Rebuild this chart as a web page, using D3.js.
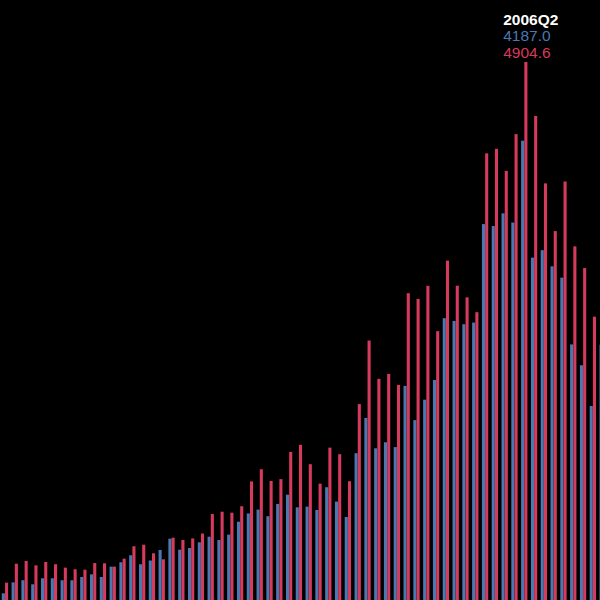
<!DOCTYPE html>
<html>
<head>
<meta charset="utf-8">
<script src="https://cdn.jsdelivr.net/npm/d3@7"></script>
<style>
  html, body { margin: 0; padding: 0; background: #000; }
  svg { display: block; }
</style>
</head>
<body>
<svg id="chart" width="600" height="600"></svg>
<script>
// Quarters 1993Q1 .. 2008Q2
const quarters = [];
for (let y = 1993; y <= 2008; y++) {
  for (let q = 1; q <= 4; q++) {
    if (y === 2008 && q > 2) break;
    quarters.push(y + "Q" + q);
  }
}

const seriesA = [61,161,180,143,198,198,180,180,210,234,
                 210,304,344,408,326,360,456,559,459,474,
                 526,577,547,596,714,789,824,764,876,960,
                 845,851,821,1028,897,757,1338,1660,1383,1438,
                 1394,1952,1640,1826,2006,2569,2544,2514,2529,3427,
                 3409,3525,3441,4187.0,3121,3189,3042,2939,2330,2140,
                 1769,2327];

const seriesB = [158,331,356,316,347,326,295,280,276,337,
                 335,304,377,490,504,426,371,568,547,561,
                 606,784,805,796,855,1081,1192,1085,1102,1350,
                 1415,1238,1061,1389,1329,1083,1786,2365,2016,2061,
                 1961,2797,2745,2864,2451,3094,2865,2759,2624,4072,
                 4113,3912,4247,4904.6,4412,3798,3363,3815,3224,3026,
                 2583,2900];

const seriesNames = ["A", "B"];
const colors = ["#4a79b2", "#d63a5c"];
const highlight = "2006Q2";

const svg = d3.select("#chart");
const W = 600, H = 600;

const x = d3.scaleBand()
  .domain(quarters)
  .range([0, 607.6])
  .paddingInner(0.33)
  .paddingOuter(0.17);

const xs = d3.scaleBand()
  .domain(seriesNames)
  .range([0, x.bandwidth()])
  .padding(0.04);

const y = d3.scaleLinear()
  .domain([0, d3.max(seriesB)])
  .range([H, 62]);

const data = quarters.map((q, i) => ({ q, vals: [seriesA[i], seriesB[i]] }));

const g = svg.append("g");
const groups = g.selectAll("g.q").data(data).join("g")
  .attr("class", "q")
  .attr("transform", d => `translate(${x(d.q)},0)`);

groups.selectAll("rect").data(d => d.vals.map((v, k) => ({ v, k })))
  .join("rect")
  .attr("x", d => xs(seriesNames[d.k]))
  .attr("width", xs.bandwidth())
  .attr("y", d => y(d.v))
  .attr("height", d => H - y(d.v))
  .attr("fill", d => colors[d.k]);

// Tooltip-like label at the highlighted quarter
const hi = data.find(d => d.q === highlight);
const lx = x(highlight) + x.bandwidth() / 2 - 21;
const label = svg.append("g").attr("font-family", "'Liberation Sans', Arial, sans-serif").attr("font-size", 15.5);
label.append("text").attr("x", lx).attr("y", 24.5).attr("fill", "#ffffff").attr("font-weight", "bold").text(highlight);
label.append("text").attr("x", lx).attr("y", 41).attr("fill", colors[0]).text(hi.vals[0].toFixed(1));
label.append("text").attr("x", lx).attr("y", 57.5).attr("fill", colors[1]).text(hi.vals[1].toFixed(1));
</script>
</body>
</html>
